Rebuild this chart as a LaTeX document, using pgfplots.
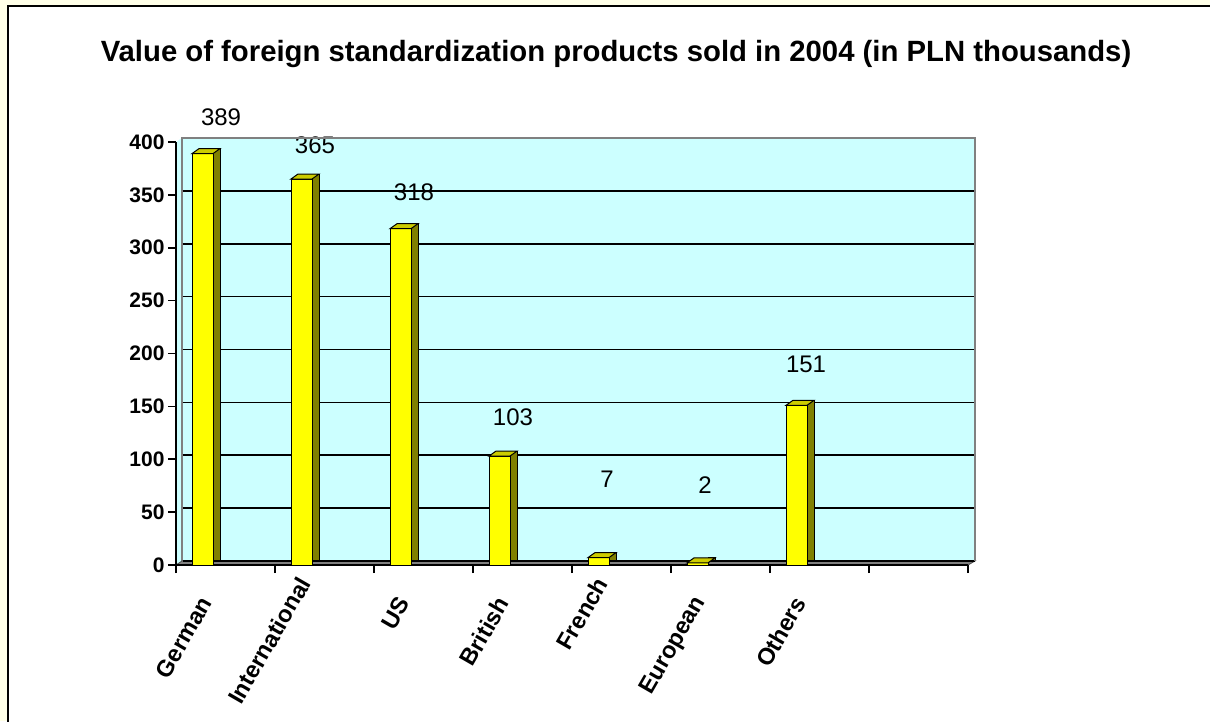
\documentclass[border=0pt]{standalone}
\usepackage{pgfplots}
\pgfplotsset{compat=1.18}
\usepackage{pgfplotstable}
\usepackage{fontspec}
\setmainfont{Liberation Sans}

\definecolor{paper}{RGB}{255,255,232}
\definecolor{wallcyan}{RGB}{204,255,255}
\definecolor{wallgray}{RGB}{128,128,128}
\definecolor{barfront}{RGB}{255,255,0}
\definecolor{barside}{RGB}{128,128,0}
\definecolor{bartop}{RGB}{204,204,0}

% values in PLN thousands, category at 0,1,...
\pgfplotstableread{
x v
0 389
1 365
2 318
3 103
4 7
5 2
6 151
}\sales

% where Excel put the value labels
\pgfplotstableread{
x y lab
-0.045 423.6 389
0.904 397.2 365
1.904 352.7 318
2.904 140.0 103
3.854 81.3 7
4.843 75.7 2
5.864 189.6 151
}\valpos

% top face of a 3d column, drawn at the data point
\pgfdeclareplotmark{barlid}{%
  \pgfpathmoveto{\pgfqpoint{-33.5pt}{0pt}}%
  \pgfpathlineto{\pgfqpoint{-26.5pt}{5pt}}%
  \pgfpathlineto{\pgfqpoint{-5.5pt}{5pt}}%
  \pgfpathlineto{\pgfqpoint{-12.5pt}{0pt}}%
  \pgfpathclose
  \pgfusepathqfillstroke}

% Excel lifts a couple of the rotated labels a bit higher
\newcommand\lift[1]{\raisebox{20pt}{#1}\hspace*{-17pt}}

\begin{document}
\begin{tikzpicture}
\useasboundingbox (0,0) rectangle (1210pt,721pt);
\clip (0,0) rectangle (1210pt,721pt);
\fill[paper] (0,0) rectangle (1210pt,721pt);
\filldraw[fill=white, draw=black, line width=1.5pt] (8pt,-10pt) rectangle (1230pt,715pt);

% back wall, side wall and floor
\fill[wallcyan] (182pt,160pt) rectangle (975pt,583pt);
\fill[wallcyan] (176pt,156pt) -- (182pt,160pt) -- (182pt,583pt) -- (176pt,579pt) -- cycle;
\draw[wallgray, line width=1.5pt] (182pt,160pt) -- (182pt,583pt);
\filldraw[fill=wallgray, draw=black!70, line width=0.8pt] (176pt,156pt) -- (968pt,156pt) -- (975pt,160pt) -- (182pt,160pt) -- cycle;

\begin{axis}[
  at={(176pt,156pt)}, anchor=south west,
  scale only axis, width=792pt, height=423pt,
  xmin=-0.5, xmax=7.5, ymin=0, ymax=400,
  clip=false,
  axis x line*=bottom, axis y line*=left,
  axis line style={black, line width=1.6pt, -},
  tick align=outside, major tick length=8pt,
  tick style={black, line width=1.6pt},
  xtick={-0.5,0.5,...,7.5}, xticklabels={},
  ytick={0,50,...,400},
  yticklabel style={font=\bfseries\fontsize{21}{21}\selectfont},
  /pgf/number format/assume math mode=true,
  ymajorgrids,
  major grid style={black, line width=1.6pt, xshift=6.5pt, yshift=4pt},
  extra x ticks={0,1,2,3,4,5,6},
  extra x tick labels={German,\lift{International},US,British,\lift{French},European,Others},
  extra x tick style={major tick length=0pt, grid=none,
    xticklabel style={xshift=-18pt, yshift=-31pt, rotate=60, anchor=east,
      font=\bfseries\fontsize{23.5}{23.5}\selectfont}},
]
\addplot[ybar, bar width=7pt, bar shift=-9pt, fill=barside, draw=black, line width=1pt, yshift=5pt] table[x=x, y=v] {\sales};
\addplot[ybar, bar width=21pt, bar shift=-23pt, fill=barfront, draw=black, line width=1pt] table[x=x, y=v] {\sales};
\addplot[only marks, mark=barlid, mark options={fill=bartop, draw=black, line width=1pt}] table[x=x, y=v] {\sales};
\addplot[only marks, mark=none, nodes near coords, point meta=explicit symbolic,
  nodes near coords style={anchor=center, font=\fontsize{24}{24}\selectfont}] table[x=x, y=y, meta=lab] {\valpos};
\end{axis}

\draw[wallgray, line width=2pt] (181pt,583pt) -- (975pt,583pt) -- (975pt,160pt);
\node[anchor=base, font=\bfseries\fontsize{29.3}{29.3}\selectfont] at (616pt,659pt)
  {Value of foreign standardization products sold in 2004 (in PLN thousands)};
\end{tikzpicture}
\end{document}
